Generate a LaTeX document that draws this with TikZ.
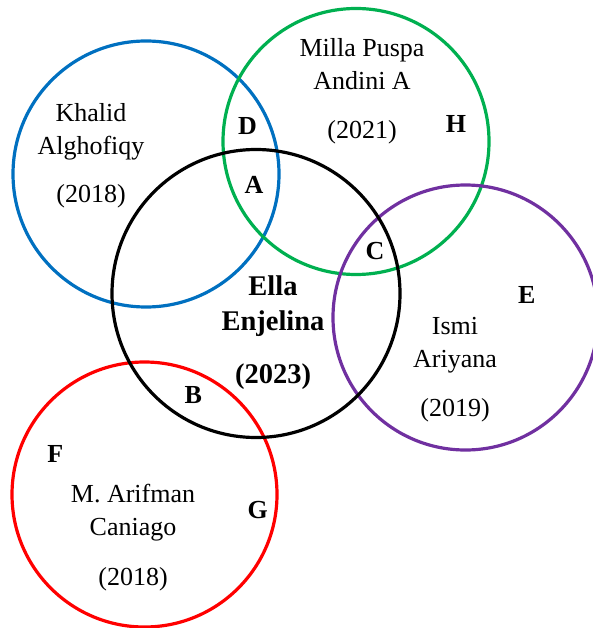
\documentclass[tikz,border=0pt]{standalone}
\usepackage{fontspec}
\setmainfont{Liberation Serif}
\definecolor{ringblue}{RGB}{0,112,192}
\definecolor{ringgreen}{RGB}{0,176,80}
\definecolor{ringpurple}{RGB}{112,48,160}
\definecolor{ringred}{RGB}{255,0,0}

\begin{document}
\begin{tikzpicture}[x=1pt,y=-1pt,
   ring/.style={line width=3.2pt},
   who/.style={font=\fontsize{26}{33}\selectfont,align=center,inner sep=0pt},
   year/.style={font=\fontsize{26}{33}\selectfont,inner sep=0pt,anchor=base},
   zone/.style={font=\fontsize{26}{33}\selectfont\bfseries,inner sep=0pt,anchor=base}]
   \useasboundingbox (0,0) rectangle (592,628);
   % the five circles
   \foreach \cx/\cy/\r/\col in {146/174/133/ringblue, 356/141.5/133/ringgreen,
      465.5/317.5/132.5/ringpurple, 144.5/494.5/132.5/ringred, 256/293.5/144/black} {
    \draw[ring,\col] (\cx,\cy) circle[radius=\r];
   }
   % names
   \node[who] (khalid) at (91,131.3) {Khalid\\Alghofiqy};
   \node[year] (khalidyr) at (91,202.3) {(2018)};
   \node[who] (milla) at (362,64.6) {Milla Puspa\\Andini A};
   \node[year] (millayr) at (362,138.3) {(2021)};
   \node[who,font=\fontsize{28.5}{35}\selectfont\bfseries] (ella) at (273,306) {Ella\\Enjelina};
   \node[year,font=\fontsize{28.5}{35}\selectfont\bfseries] (ellayr) at (273,383.3) {(2023)};
   \node[who] (ismi) at (455,345.5) {Ismi\\Ariyana};
   \node[year] (ismiyr) at (455,416.7) {(2019)};
   \node[who] (arifman) at (133,512.7) {M. Arifman\\Caniago};
   \node[year] (arifmanyr) at (133,585) {(2018)};
   % region letters
   \foreach \x/\y/\t in {247.5/135/D, 254/193.3/A, 456/132.7/H, 375/259.3/C,
      526.7/303.3/E, 193.3/403.3/B, 55.3/462.7/F, 257.7/518.3/G} {
    \node[zone] (lab\t) at (\x,\y) {\t};
   }
\end{tikzpicture}
\end{document}
